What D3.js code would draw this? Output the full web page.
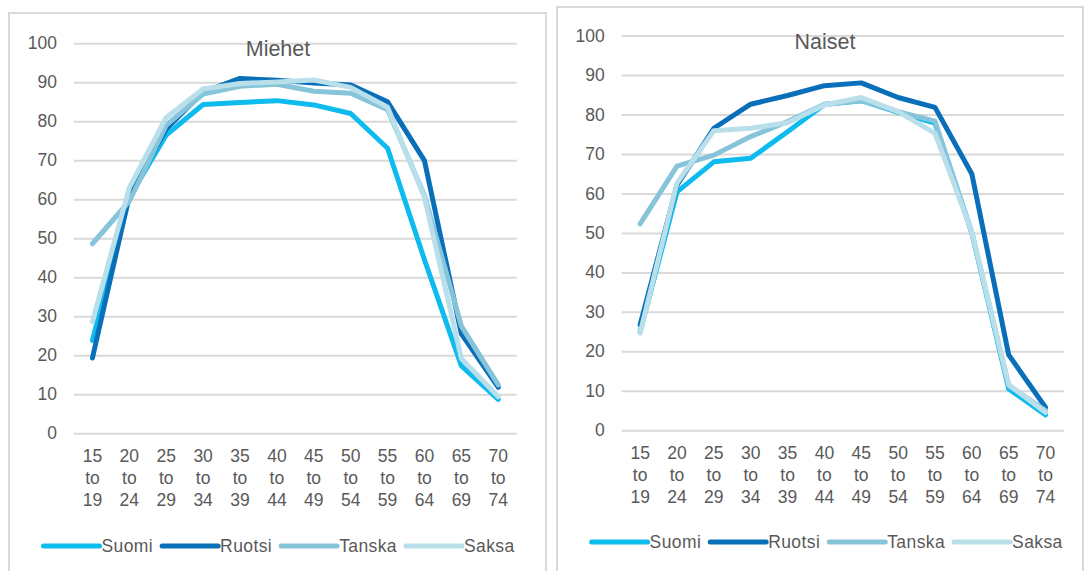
<!DOCTYPE html>
<html>
<head>
<meta charset="utf-8">
<script src="https://cdn.jsdelivr.net/npm/d3@7"></script>
<style>
  body { margin: 0; background: #fff; }
  text { font-family: Arial, "Liberation Sans", sans-serif; fill: #595959; }
</style>
</head>
<body>
<div id="chart"></div>
<script>
// age groups on the x axis
var ageGroups = ["15 to 19", "20 to 24", "25 to 29", "30 to 34", "35 to 39", "40 to 44",
                 "45 to 49", "50 to 54", "55 to 59", "60 to 64", "65 to 69", "70 to 74"]
var countries = ["Suomi", "Ruotsi", "Tanska", "Saksa"]
var yTicks = [0, 10, 20, 30, 40, 50, 60, 70, 80, 90, 100]

// Miehet
var miehetSuomi  = [23.8, 60.5, 76.5, 84.3, 84.8, 85.3, 84.2, 82.0, 73.1, 44.5, 17.3, 8.7]
var miehetRuotsi = [19.3, 61.0, 78.0, 87.5, 91.0, 90.5, 89.8, 89.3, 85.0, 69.9, 25.5, 11.8]
var miehetTanska = [48.6, 59.5, 79.0, 87.0, 89.0, 89.5, 87.7, 87.2, 83.0, 61.0, 27.5, 12.4]
var miehetSaksa  = [28.6, 63.0, 81.0, 88.3, 89.7, 90.1, 90.6, 88.7, 83.6, 60.5, 19.2, 9.4]

// Naiset
var naisetSuomi  = [25.0, 60.4, 68.0, 68.9, 75.6, 82.5, 83.5, 80.5, 77.8, 50.0, 10.5, 3.9]
var naisetRuotsi = [26.7, 62.1, 76.5, 82.6, 84.8, 87.3, 88.0, 84.3, 81.8, 64.9, 19.1, 5.8]
var naisetTanska = [52.3, 66.9, 69.7, 74.4, 78.2, 82.6, 83.5, 80.7, 78.3, 50.0, 11.3, 5.0]
var naisetSaksa  = [24.6, 62.6, 75.9, 76.5, 77.9, 82.4, 84.3, 80.7, 75.2, 50.3, 11.6, 4.5]

var colors = ["#0DBBEE", "#0A6FB9", "#86C4DA", "#B9DFEB"]

var svg = d3.select("#chart").append("svg")
    .attr("width", 1085)
    .attr("height", 571)

function drawPanel(p) {
  // panel frame
  svg.append("rect")
    .attr("x", p.frame[0]).attr("y", p.frame[1])
    .attr("width", p.frame[2]).attr("height", p.frame[3])
    .style("fill", "none").style("stroke", "#D9D9D9").style("stroke-width", 2)

  var x = d3.scaleBand().domain(ageGroups).range([p.left, p.right])
  var y = d3.scaleLinear().domain([0, 100]).range([p.bottom, p.top])

  // gridlines + y labels
  var yAxis = svg.append("g")
    .attr("transform", "translate(" + p.left + ",0)")
    .call(d3.axisLeft(y).tickValues(yTicks).tickSize(-(p.right - p.left)).tickPadding(17))
  yAxis.select(".domain").remove()
  yAxis.selectAll("line").style("stroke", "#D9D9D9").style("stroke-width", 2)
  yAxis.selectAll("text").style("font-size", "17.5px").style("fill", "#595959")

  // x labels, three lines each
  var xAxis = svg.append("g")
    .attr("transform", "translate(0," + p.bottom + ")")
    .call(d3.axisBottom(x).tickSize(0).tickPadding(0))
  xAxis.select(".domain").remove()
  xAxis.selectAll("text")
    .style("font-size", "17.5px").style("fill", "#595959")
    .attr("y", 0).attr("dy", null)
    .each(function (d) {
      var t = d3.select(this).text(null)
      d.split(" ").forEach(function (w, i) {
        t.append("tspan").attr("x", 0).attr("y", 29 + i * 21.7).text(w)
      })
    })

  // title
  svg.append("text")
    .attr("x", p.titleX).attr("y", p.top + 13)
    .attr("text-anchor", "middle")
    .style("font-size", "21.5px")
    .text(p.title)

  var line = d3.line()
    .x(function (d, i) { return x(ageGroups[i]) + x.bandwidth() / 2 })
    .y(function (d) { return y(d) })

  p.series.forEach(function (s, i) {
    svg.append("path")
      .datum(s)
      .attr("d", line)
      .style("fill", "none")
      .style("stroke", colors[i])
      .style("stroke-width", 5)
      .style("stroke-linecap", "round")
      .style("stroke-linejoin", "round")
  })

  // legend
  var lx = p.legendX
  countries.forEach(function (c, i) {
    svg.append("line")
      .attr("x1", lx).attr("x2", lx + 56)
      .attr("y1", p.legendY).attr("y2", p.legendY)
      .style("stroke", colors[i]).style("stroke-width", 5).style("stroke-linecap", "round")
    var t = svg.append("text")
      .attr("x", lx + 58).attr("y", p.legendY + 6)
      .style("font-size", "17.5px").style("letter-spacing", "0.4px")
      .text(c)
    lx = lx + 58 + t.node().getComputedTextLength() + 9
  })
}

drawPanel({
  title: "Miehet", titleX: 278,
  frame: [9, 13, 537, 600],
  left: 74, right: 516.7, top: 43.3, bottom: 433.3,
  legendX: 43.5, legendY: 546,
  series: [miehetSuomi, miehetRuotsi, miehetTanska, miehetSaksa]
})

drawPanel({
  title: "Naiset", titleX: 825,
  frame: [557, 7, 526, 600],
  left: 621.7, right: 1064, top: 35.5, bottom: 430.3,
  legendX: 591.6, legendY: 542,
  series: [naisetSuomi, naisetRuotsi, naisetTanska, naisetSaksa]
})
</script>
</body>
</html>
